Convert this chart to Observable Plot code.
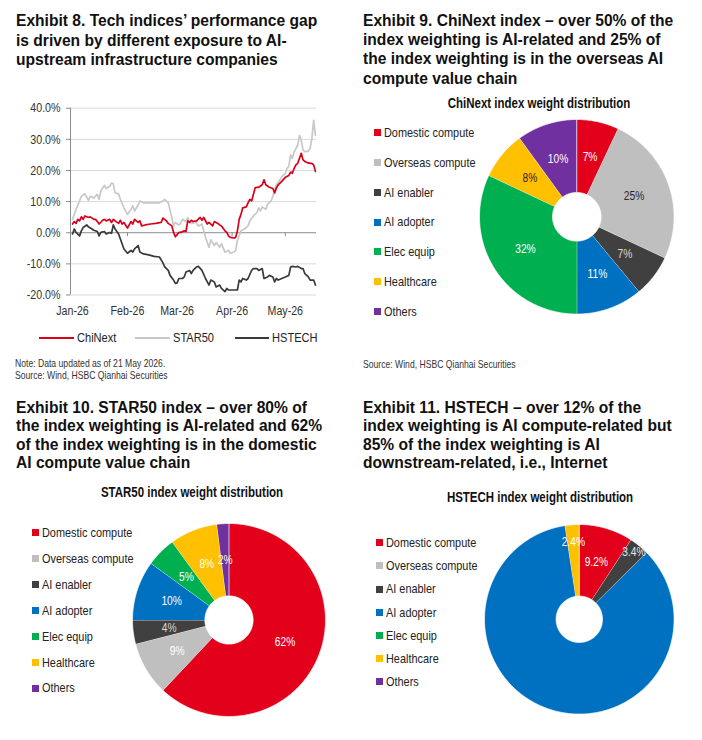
<!DOCTYPE html>
<html><head><meta charset="utf-8">
<script src="https://cdn.jsdelivr.net/npm/d3@7"></script>
<script src="https://cdn.jsdelivr.net/npm/@observablehq/plot@0.6"></script>
<style>
html,body{margin:0;padding:0;background:#fff}
body{width:702px;height:740px;position:relative;overflow:hidden;font-family:"Liberation Sans",Arial,sans-serif;color:#111}
.title{position:absolute;font-weight:bold;font-size:15.6px;white-space:nowrap;color:#111}
</style></head><body>
<script>
// ---------- DATA ----------
const chinext = [["01-01",2.8],["01-02",3.6],["01-03",3.0],["01-04",4.3],["01-05",3.8],["01-06",5.1],["01-07",4.3],["01-08",5.4],["01-10",4.9],["01-11",5.1],["01-13",4.3],["01-14",4.3],["01-15",3.6],["01-16",2.8],["01-18",4.0],["01-19",4.3],["01-20",3.8],["01-22",4.3],["01-23",3.3],["01-24",4.3],["01-25",3.8],["01-27",3.0],["01-28",4.0],["01-29",2.8],["01-30",3.3],["02-01",1.5],["02-03",3.6],["02-04",2.8],["02-05",4.3],["02-07",3.3],["02-08",3.8],["02-09",2.2],["02-11",2.5],["02-14",2.8],["02-17",3.0],["02-20",3.3],["02-21",4.7],["02-23",3.8],["02-24",3.0],["02-26",2.2],["02-27",0.1],["02-28",-1.3],["03-02",0.1],["03-03",0.1],["03-05",0.6],["03-06",0.4],["03-07",3.8],["03-08",3.3],["03-09",4.0],["03-10",3.6],["03-12",3.8],["03-14",4.9],["03-15",4.0],["03-16",4.9],["03-18",2.8],["03-19",3.3],["03-21",2.2],["03-22",3.6],["03-24",3.0],["03-25",2.5],["03-26",2.2],["03-28",0.6],["03-29",0.1],["03-30",-1.0],["03-31",-1.5],["04-02",-1.7],["04-03",-1.5],["04-04",0.6],["04-05",4.3],["04-06",5.9],["04-07",8.0],["04-09",8.3],["04-10",9.6],["04-11",10.7],["04-12",10.2],["04-13",12.3],["04-14",14.4],["04-15",14.6],["04-16",14.6],["04-18",15.4],["04-19",17.0],["04-20",15.4],["04-22",14.6],["04-24",14.2],["04-25",12.8],["04-26",14.4],["04-27",15.4],["04-29",16.5],["05-01",17.8],["05-03",18.4],["05-04",19.5],["05-05",19.1],["05-06",20.7],["05-07",21.8],["05-08",22.3],["05-10",25.5],["05-11",23.4],["05-12",22.9],["05-13",22.6],["05-15",22.3],["05-16",22.3],["05-17",21.8],["05-18",19.7]];
const star50 = [["01-01",4.3],["01-03",7.5],["01-05",10.2],["01-06",11.7],["01-08",12.5],["01-10",10.4],["01-11",11.7],["01-13",11.2],["01-15",12.3],["01-16",10.7],["01-17",13.5],["01-19",15.2],["01-20",14.2],["01-22",14.9],["01-23",16.0],["01-24",15.7],["01-25",12.8],["01-27",12.5],["01-28",10.7],["01-30",8.0],["02-01",5.9],["02-03",7.5],["02-04",8.6],["02-05",7.0],["02-07",8.9],["02-08",10.2],["02-10",9.6],["02-13",9.6],["02-16",9.6],["02-19",9.6],["02-21",10.2],["02-22",10.7],["02-24",9.6],["02-26",4.9],["02-27",2.2],["02-28",3.3],["03-02",2.5],["03-03",3.0],["03-04",4.3],["03-06",3.6],["03-07",4.9],["03-08",3.3],["03-10",3.0],["03-11",3.8],["03-13",2.2],["03-15",2.8],["03-17",-1.5],["03-19",-4.7],["03-20",-2.3],["03-22",-4.1],["03-23",-3.1],["03-25",-4.7],["03-26",-3.6],["03-28",-6.2],["03-30",-5.7],["03-31",-6.6],["04-02",-6.2],["04-03",-5.7],["04-04",-2.5],["04-06",0.6],["04-08",1.2],["04-10",2.2],["04-11",3.8],["04-13",5.4],["04-15",6.5],["04-16",8.0],["04-17",7.0],["04-18",8.3],["04-20",7.5],["04-21",9.1],["04-23",10.2],["04-24",11.7],["04-25",13.9],["04-26",15.4],["04-28",17.0],["04-29",18.0],["05-01",19.1],["05-02",20.7],["05-03",21.3],["05-04",25.0],["05-05",23.9],["05-06",26.0],["05-08",28.1],["05-09",31.3],["05-10",29.7],["05-11",26.6],["05-12",26.0],["05-14",26.2],["05-15",27.1],["05-16",30.3],["05-17",36.1],["05-18",31.3]];
const hstech = [["01-01",-0.4],["01-02",1.2],["01-03",0.1],["01-05",-1.0],["01-06",0.6],["01-07",1.7],["01-09",2.5],["01-10",1.9],["01-12",1.2],["01-13",0.8],["01-15",0.4],["01-16",-1.0],["01-17",0.1],["01-19",0.4],["01-20",-0.4],["01-22",0.1],["01-23",-0.2],["01-24",2.5],["01-25",1.2],["01-27",-0.4],["01-28",-2.0],["01-29",-3.6],["01-30",-5.2],["02-01",-6.6],["02-03",-5.7],["02-04",-6.2],["02-05",-5.2],["02-07",-4.1],["02-08",-6.2],["02-10",-6.8],["02-13",-7.1],["02-16",-7.6],["02-19",-7.8],["02-20",-8.7],["02-21",-9.7],["02-22",-11.0],["02-24",-12.1],["02-25",-13.7],["02-27",-15.2],["02-28",-16.3],["03-01",-16.1],["03-02",-14.7],["03-04",-14.7],["03-05",-14.2],["03-06",-12.6],["03-08",-12.1],["03-09",-13.1],["03-10",-12.1],["03-12",-11.0],["03-13",-10.8],["03-15",-12.1],["03-17",-14.7],["03-19",-16.8],["03-20",-15.2],["03-22",-15.8],["03-23",-17.4],["03-25",-16.8],["03-26",-17.9],["03-28",-18.9],["03-29",-17.9],["03-30",-18.4],["04-01",-18.4],["04-04",-18.4],["04-05",-15.2],["04-06",-15.8],["04-07",-14.7],["04-09",-15.2],["04-10",-14.7],["04-12",-12.1],["04-13",-11.5],["04-15",-11.5],["04-16",-12.1],["04-18",-11.5],["04-19",-14.7],["04-21",-14.2],["04-22",-13.7],["04-24",-14.2],["04-25",-15.8],["04-26",-14.7],["04-27",-15.2],["04-29",-14.7],["05-01",-14.2],["05-03",-13.7],["05-04",-11.0],["05-05",-10.8],["05-07",-11.0],["05-08",-10.8],["05-10",-11.5],["05-11",-11.5],["05-12",-13.1],["05-14",-14.2],["05-15",-15.2],["05-17",-15.2],["05-18",-16.8]];
const seriesNames = ["ChiNext","STAR50","HSTECH"];
const yTicks = [-20,-10,0,10,20,30,40];
const monthTicks = ["2026-01-01","2026-02-01","2026-03-01","2026-04-01","2026-05-01"];
const monthLabels = ["Jan-26","Feb-26","Mar-26","Apr-26","May-26"];

const sectors = ["Domestic compute","Overseas compute","AI enabler","AI adopter","Elec equip","Healthcare","Others"];
const chinextWeights = [7,25,7,11,32,8,10];
const star50Weights = [62,9,4,10,5,8,2];
const hstechWeights = [9.2,0,3.4,85,0,2.4,0];
const chinextLabels = ["7%","25%","7%","11%","32%","8%","10%"];
const star50Labels = ["62%","9%","4%","10%","5%","8%","2%"];
const hstechLabels = ["9.2%","","3.4%","","","2.4%",""];

// ---------- STYLE ----------
const sectorColors = ["#E2001A","#BFBFBF","#404040","#0070C0","#00B050","#FFC000","#7030A0"];
const lineColors = {ChiNext:"#D9001B", STAR50:"#C8C8C8", HSTECH:"#3A3A3A"};

function hasFont(name){
  const c=document.createElement("canvas").getContext("2d");
  const s="Domestic compute 0123456789";
  c.font="20px monospace"; const a=c.measureText(s).width;
  c.font=`20px "${name}", monospace`; const b=c.measureText(s).width;
  return Math.abs(a-b)>0.5;
}
const NAR = hasFont("Liberation Sans Narrow") ? "Liberation Sans Narrow" : (hasFont("Arial Narrow") ? "Arial Narrow" : null);
const FAM = NAR ? `"${NAR}", "Liberation Sans", Arial, sans-serif` : `"Liberation Sans", Arial, sans-serif`;
const SX = NAR ? 1 : 0.82;   // horizontal condensing to mimic Arial Narrow

function el(css, html, parent=document.body){
  const e=document.createElement("div");
  e.style.cssText="position:absolute;white-space:nowrap;"+css;
  if(html!=null) e.innerHTML=html;
  parent.appendChild(e); return e;
}
// narrow left-aligned text, vertically centred on cy
function ntext(x, cy, size, html, extra=""){
  return el(`left:${x}px;top:${cy - size/2}px;font-family:${FAM};font-size:${size}px;line-height:${size}px;transform:scaleX(${SX});transform-origin:0 50%;${extra}`, html);
}
function condense(svg){
  if (SX === 1) return svg;
  svg.querySelectorAll("text").forEach(t => t.setAttribute("transform", (t.getAttribute("transform") || "") + ` scale(${SX},1)`));
  return svg;
}

// ---------- TITLES ----------
el("left:16px;top:11px;line-height:19.5px","Exhibit 8. Tech indices’ performance gap<br>is driven by different exposure to AI-<br>upstream infrastructure companies").className="title";
el("left:363px;top:11px;line-height:19.2px","Exhibit 9. ChiNext index – over 50% of the<br>index weighting is AI-related and 25% of<br>the index weighting is in the overseas AI<br>compute value chain").className="title";
el("left:16px;top:399px;line-height:18.4px","Exhibit 10. STAR50 index – over 80% of<br>the index weighting is AI-related and 62%<br>of the index weighting is in the domestic<br>AI compute value chain").className="title";
el("left:363px;top:399px;line-height:18.4px","Exhibit 11. HSTECH – over 12% of the<br>index weighting is AI compute-related but<br>85% of the index weighting is AI<br>downstream-related, i.e., Internet").className="title";

// ---------- LINE CHART ----------
const parse = s => new Date(s+"T00:00:00Z");
const toRows = (name, arr) => arr.map(([d,v]) => ({series:name, date: parse("2026-"+d), value: v}));
const dataBy = {ChiNext: toRows("ChiNext", chinext), STAR50: toRows("STAR50", star50), HSTECH: toRows("HSTECH", hstech)};
const DAY = 864e5, T0 = Date.UTC(2026,0,1);
const xDomain = [new Date(T0 - 1.13*DAY), new Date(T0 + 137.6*DAY)];
const monthDates = monthTicks.map(parse);
const labelByTime = new Map(monthDates.map((d,i)=>[+d, monthLabels[i]]));

const lineChart = Plot.plot({
  width: 330, height: 225,
  marginLeft: 70, marginRight: 14, marginTop: 12.7, marginBottom: 25.5,
  style: {fontFamily: FAM, fontSize: "13px", color: "#333", background: "transparent", overflow: "visible"},
  x: {type: "utc", domain: xDomain},
  y: {domain: [-20, 40]},
  marks: [
    Plot.ruleY(yTicks.filter(d => d !== 0), {stroke: "#D9D9D9", strokeWidth: 1}),
    Plot.ruleY([0], {stroke: "#8C8C8C", strokeWidth: 1}),
    Plot.ruleX(monthDates.slice(1), {y1: 0, y2: 0, insetBottom: -4, stroke: "#8C8C8C"}),
    Plot.ruleX([xDomain[0]], {y1: -20, y2: 40, stroke: "#8C8C8C"}),
    Plot.axisY({ticks: yTicks, tickFormat: d => d.toFixed(1) + "%", tickSize: 4, tickPadding: 6, stroke: "#8C8C8C", label: null}),
    Plot.axisX({ticks: monthDates, tickFormat: d => labelByTime.get(+d), tickSize: 0, tickPadding: 11, label: null}),
    Plot.line(dataBy.STAR50, {x: "date", y: "value", stroke: lineColors.STAR50, strokeWidth: 1.7}),
    Plot.line(dataBy.HSTECH, {x: "date", y: "value", stroke: lineColors.HSTECH, strokeWidth: 1.7}),
    Plot.line(dataBy.ChiNext, {x: "date", y: "value", stroke: lineColors.ChiNext, strokeWidth: 1.7})
  ]
});
el("left:0;top:95px;width:330px;height:225px").appendChild(condense(lineChart));

// line legend
const legPos = {ChiNext:[39,77], STAR50:[135,173], HSTECH:[235,272]};
for (const name of seriesNames) {
  const [lx, tx] = legPos[name];
  el(`left:${lx}px;top:337px;width:${tx-lx-3}px;height:1.8px;background:${lineColors[name]}`);
  ntext(tx, 338, 13.5, name, "color:#222");
}
el(`left:15px;top:357px;font-family:${FAM};font-size:10.5px;line-height:12px;color:#333;transform:scaleX(${SX});transform-origin:0 0`, "Note: Data updated as of 21 May 2026.<br>Source: Wind, HSBC Qianhai Securities");
el(`left:363px;top:358px;font-family:${FAM};font-size:10.5px;line-height:12px;color:#333;transform:scaleX(${SX});transform-origin:0 0`, "Source: Wind, HSBC Qianhai Securities");

// ---------- PIES ----------
function donut(weights, labels, cfg){
  const arcs = d3.pie().sort(null).value(d => d)(weights);
  const ring = [];
  arcs.forEach((a, i) => {
    if (!a.value) return;
    const n = Math.max(4, Math.ceil((a.endAngle - a.startAngle) * 180 / Math.PI));
    for (let k = 0; k <= n; k++) { const t = a.startAngle + (a.endAngle - a.startAngle) * k / n; ring.push({i, x: Math.sin(t), y: Math.cos(t)}); }
    for (let k = n; k >= 0; k--) { const t = a.startAngle + (a.endAngle - a.startAngle) * k / n; ring.push({i, x: cfg.inner * Math.sin(t), y: cfg.inner * Math.cos(t)}); }
  });
  const labs = arcs.map((a, i) => ({i, text: labels[i], t: (a.startAngle + a.endAngle) / 2, r: (cfg.labelR && cfg.labelR[i]) || (1 + cfg.inner) / 2}))
                   .filter(d => d.text);
  const m = 3, S = 2 * (cfg.r + m);
  const svg = Plot.plot({
    width: S, height: S, margin: m,
    x: {domain: [-1, 1], axis: null}, y: {domain: [-1, 1], axis: null},
    color: {type: "identity"},
    style: {fontFamily: FAM, background: "transparent", overflow: "visible"},
    marks: [
      Plot.line(ring, {x: "x", y: "y", z: "i", fill: d => sectorColors[d.i], stroke: "#ffffff", strokeWidth: 0.7, curve: "linear"}),
      Plot.text(labs, {x: d => d.r * Math.sin(d.t), y: d => d.r * Math.cos(d.t), text: "text", fill: d => cfg.textColors[d.i], fontSize: 12.5})
    ]
  });
  el(`left:${cfg.cx - S/2}px;top:${cfg.cy - S/2}px;width:${S}px;height:${S}px`).appendChild(condense(svg));
  // subtitle
  el(`left:${cfg.subX}px;top:${cfg.subY - 7}px;transform:translateX(-50%) scaleX(${SX});transform-origin:50% 50%;font-family:${FAM};font-weight:bold;font-size:14px;line-height:14px;color:#111`, cfg.subtitle);
  // legend
  sectors.forEach((s, i) => {
    const y = cfg.legY + i * cfg.legStep;
    el(`left:${cfg.legX}px;top:${y - 3.6}px;width:7.2px;height:7.2px;background:${sectorColors[i]}`);
    ntext(cfg.legX + 10, y, 13.3, s, "color:#222");
  });
}

donut(chinextWeights, chinextLabels, {cx: 576.5, cy: 216.2, r: 97.3, inner: 0.25,
  textColors: ["#ffffff","#262626","#d9d9d9","#ffffff","#ffffff","#262626","#ffffff"],
  subtitle: "ChiNext index weight distribution", subX: 539, subY: 103,
  legX: 374, legY: 132.7, legStep: 29.8});
donut(star50Weights, star50Labels, {cx: 228, cy: 619, r: 96.5, inner: 0.25,
  textColors: ["#ffffff","#ffffff","#d9d9d9","#ffffff","#ffffff","#ffffff","#ffffff"],
  subtitle: "STAR50 index weight distribution", subX: 192, subY: 491.7,
  legX: 32, legY: 532.7, legStep: 25.9});
donut(hstechWeights, hstechLabels, {cx: 579, cy: 618.3, r: 94.8, inner: 0.245,
  labelR: [0.63, 0, 0.91, 0, 0, 0.82, 0],
  textColors: ["#ffffff","#ffffff","#e6e6e6","#ffffff","#ffffff","#ffffff","#ffffff"],
  subtitle: "HSTECH index weight distribution", subX: 540, subY: 496.7,
  legX: 376, legY: 542.7, legStep: 23.2});
</script>
</body></html>
